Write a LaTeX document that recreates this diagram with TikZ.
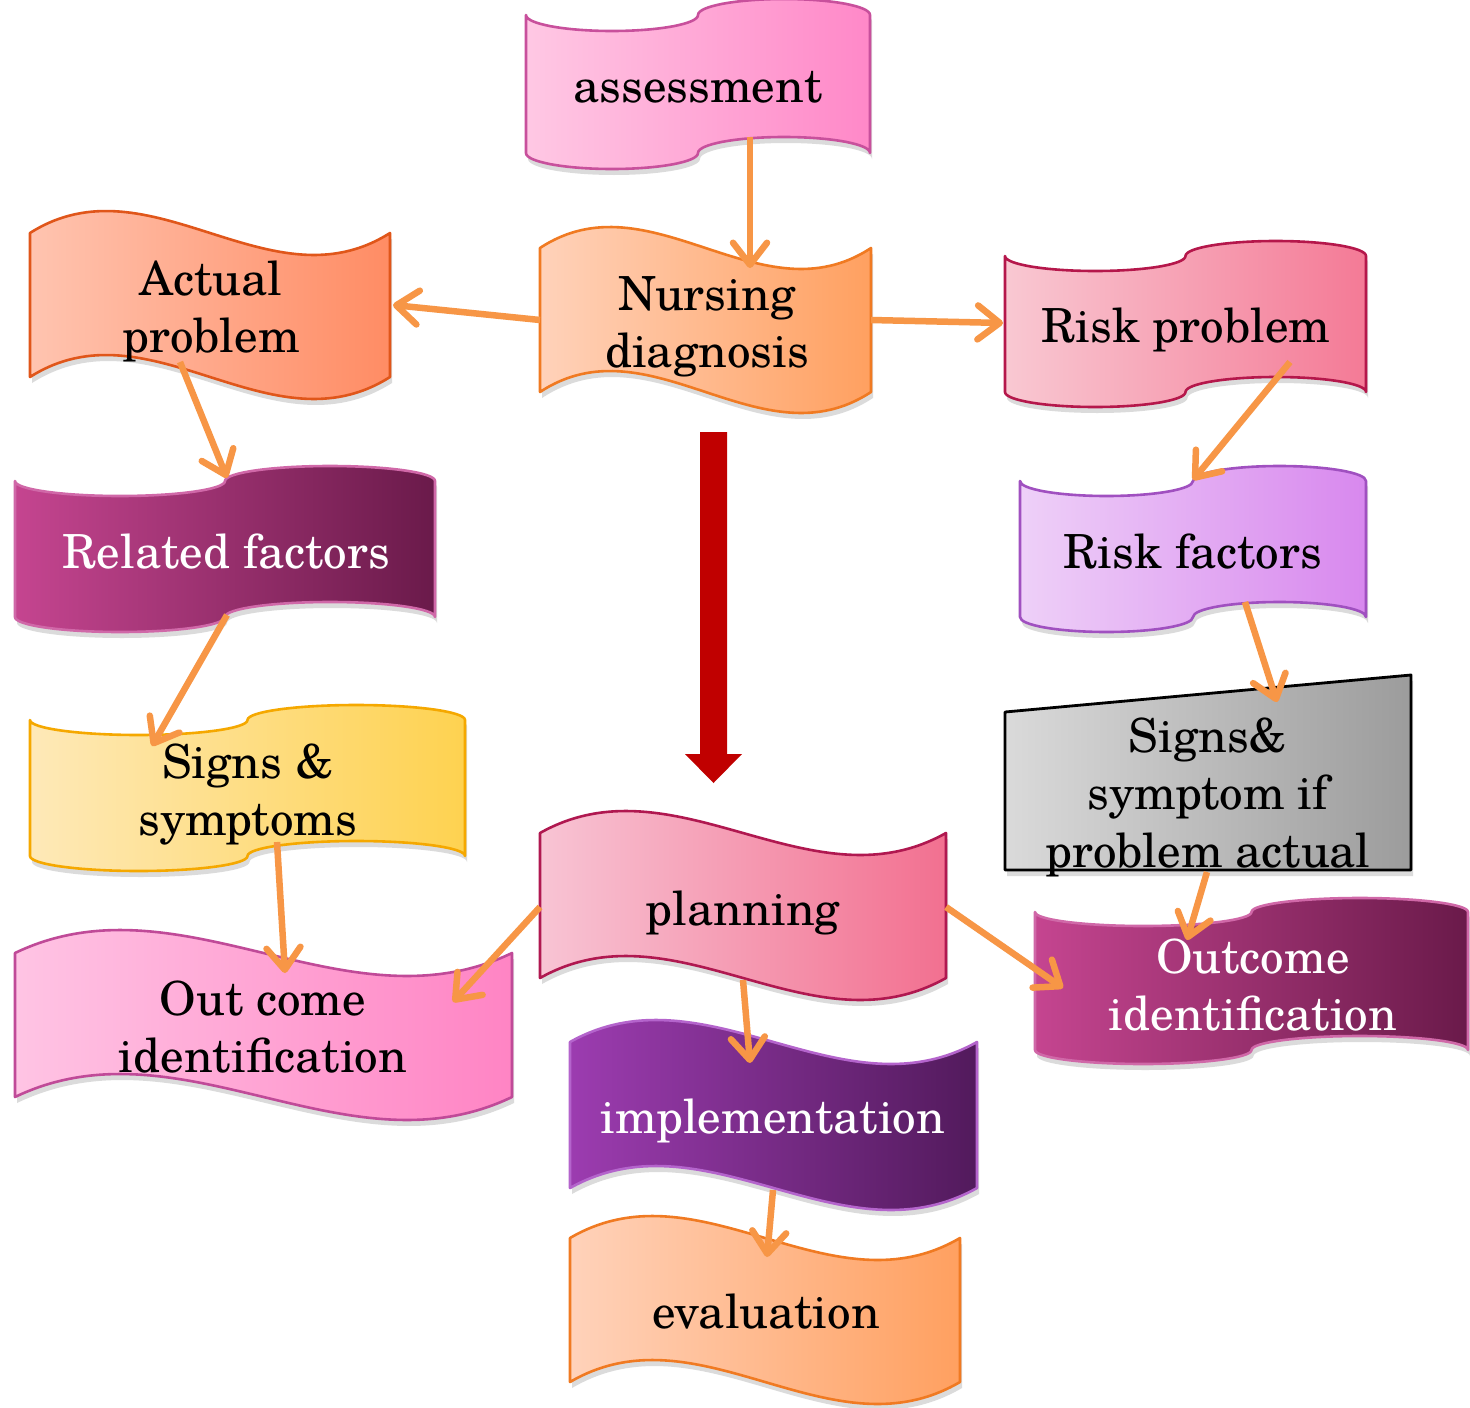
\documentclass[tikz,border=0pt]{standalone}
\usepackage{fontspec}
\setmainfont{TeX Gyre Schola}
\usetikzlibrary{arrows.meta}
\definecolor{connc}{HTML}{F79646}
\definecolor{bigred}{HTML}{C00000}
% ribbon colours: light, dark, border
\definecolor{asA}{HTML}{FFC8E4}\definecolor{asB}{HTML}{FF88C8}\definecolor{asC}{HTML}{C8509C}
\definecolor{orA}{HTML}{FFD2BA}\definecolor{orB}{HTML}{FFA060}\definecolor{orC}{HTML}{F07A22}
\definecolor{apA}{HTML}{FFC4B0}\definecolor{apB}{HTML}{FF8C64}\definecolor{apC}{HTML}{E0561A}
\definecolor{rpA}{HTML}{F9C8D2}\definecolor{rpB}{HTML}{F47A96}\definecolor{rpC}{HTML}{B5174B}
\definecolor{mgA}{HTML}{C54590}\definecolor{mgB}{HTML}{6A1A4A}\definecolor{mgC}{HTML}{D068A8}
\definecolor{rkA}{HTML}{EED0F8}\definecolor{rkB}{HTML}{D888EE}\definecolor{rkC}{HTML}{A050C0}
\definecolor{ywA}{HTML}{FEE9B8}\definecolor{ywB}{HTML}{FED250}\definecolor{ywC}{HTML}{F5A800}
\definecolor{gyA}{HTML}{DADADA}\definecolor{gyB}{HTML}{9C9C9C}
\definecolor{plA}{HTML}{F8C4D4}\definecolor{plB}{HTML}{F27090}\definecolor{plC}{HTML}{B01850}
\definecolor{pkA}{HTML}{FFC4E4}\definecolor{pkB}{HTML}{FF84C4}\definecolor{pkC}{HTML}{C04A98}
\definecolor{puA}{HTML}{9C3CB0}\definecolor{puB}{HTML}{521A5C}\definecolor{puC}{HTML}{B464CC}
\newcommand\ml[1]{\begin{tabular}[t]{@{}c@{}}#1\end{tabular}}
% punched-tape ribbon: style, L, R, top, bottom, ry
\newcommand\ptape[6]{%
  \pgfmathsetmacro\pa{(#3-#2)/4}%
  \path[fill=black,opacity=.14,shift={(2,6)}] (#2,#4)
    arc[start angle=180,end angle=0,x radius=\pa,y radius=#6]
    arc[start angle=180,end angle=360,x radius=\pa,y radius=#6] -- (#3,#5)
    arc[start angle=0,end angle=-180,x radius=\pa,y radius=#6]
    arc[start angle=0,end angle=180,x radius=\pa,y radius=#6] -- cycle;
  \path[#1] (#2,#4)
    arc[start angle=180,end angle=0,x radius=\pa,y radius=#6]
    arc[start angle=180,end angle=360,x radius=\pa,y radius=#6] -- (#3,#5)
    arc[start angle=0,end angle=-180,x radius=\pa,y radius=#6]
    arc[start angle=0,end angle=180,x radius=\pa,y radius=#6] -- cycle;}
% wave ribbon: style, L, R, top, bottom, amplitude
\newcommand\wavebox[6]{%
  \pgfmathsetmacro\wa{#2+(#3-#2)/3}%
  \pgfmathsetmacro\wb{#2+2*(#3-#2)/3}%
  \pgfmathsetmacro\wtu{#4-3.46*#6}\pgfmathsetmacro\wtd{#4+3.46*#6}%
  \pgfmathsetmacro\wbu{#5-3.46*#6}\pgfmathsetmacro\wbd{#5+3.46*#6}%
  \path[fill=black,opacity=.14,shift={(2,6)}] (#2,#4) .. controls (\wa,\wtu) and (\wb,\wtd) .. (#3,#4)
    -- (#3,#5) .. controls (\wb,\wbd) and (\wa,\wbu) .. (#2,#5) -- cycle;
  \path[#1] (#2,#4) .. controls (\wa,\wtu) and (\wb,\wtd) .. (#3,#4)
    -- (#3,#5) .. controls (\wb,\wbd) and (\wa,\wbu) .. (#2,#5) -- cycle;}
\tikzset{
  shp/.style={draw=#1C, line width=2.6pt, line join=round, left color=#1A, right color=#1B},
  lbl/.style={font=\fontsize{47}{57.5}\selectfont, inner sep=0pt, anchor=base},
  wlbl/.style={lbl, text=white},
  conn/.style={draw=connc, line width=6.5pt, -{Straight Barb[length=22pt,width=34pt,round]}},
}
\begin{document}
\begin{tikzpicture}[x=1pt,y=-1pt]
\useasboundingbox (0,0) rectangle (1470,1408);
\fill[white] (0,0) rectangle (1470,1408);

% ribbons
\ptape{shp=as}{526}{870}{15}{153}{16}
\wavebox{shp=or}{540}{871}{248}{392}{21}
\wavebox{shp=ap}{30}{390}{233}{377}{22}
\ptape{shp=rp}{1005}{1366}{256}{392}{15}
\ptape{shp=mg}{15}{435}{481}{617}{15}
\ptape{shp=rk}{1020}{1366}{481}{617}{15}
\ptape{shp=yw}{30}{465}{720}{856}{15}
\path[fill=black,opacity=.14,shift={(2,6)}] (1005,712) -- (1411,675) -- (1411,870) -- (1005,870) -- cycle;
\path[draw=black,line width=2.8pt,line join=round,left color=gyA,right color=gyB]
  (1005,712) -- (1411,675) -- (1411,870) -- (1005,870) -- cycle;
\wavebox{shp=pl}{540}{946}{833}{978}{22}
\wavebox{shp=pk}{15}{512}{953}{1097}{23}
\ptape{shp=mg}{1035}{1468}{912}{1050}{14}
\wavebox{shp=pu}{570}{977}{1042}{1188}{22}
\wavebox{shp=or}{570}{960}{1238}{1382}{22}

% big red arrow
\fill[bigred] (700,432) -- (727,432) -- (727,754) -- (742,754) -- (713.5,783) -- (685,754) -- (700,754) -- cycle;

% labels
\node[lbl] (assess) at (698,102) {assessment};
\node[lbl] (nurs) at (707,310) {\ml{Nursing\\diagnosis}};
\node[lbl] (actual) at (211,295) {\ml{Actual\\problem}};
\node[lbl] (riskp) at (1186,342) {Risk problem};
\node[wlbl] (related) at (226,568) {Related factors};
\node[lbl] (riskf) at (1193,568) {Risk factors};
\node[lbl] (signs) at (248,778) {\ml{Signs \&\\symptoms}};
\node[lbl] (sympt) at (1208,752) {\ml{Signs\&\\symptom if\\problem actual}};
\node[lbl] (plan) at (743,925) {planning};
\node[lbl] (outl) at (263,1015) {\ml{Out come\\identification}};
\node[wlbl] (outr) at (1253,973) {\ml{Outcome\\identification}};
\node[wlbl] (impl) at (773,1133) {implementation};
\node[lbl] (eval) at (766,1328) {evaluation};

% connector end points
\coordinate (as-o) at (750,137);  \coordinate (nd-i) at (750,268);
\coordinate (nd-l) at (540,320);  \coordinate (ap-i) at (393,305);
\coordinate (nd-r) at (871,320);  \coordinate (rp-i) at (1003,323);
\coordinate (ap-o) at (180,362);  \coordinate (rf-i) at (227,478);
\coordinate (rf-o) at (227,615);  \coordinate (ss-i) at (152,746);
\coordinate (ss-o) at (277,842);  \coordinate (ol-i) at (285,973);
\coordinate (pl-l) at (540,907);  \coordinate (ol-j) at (453,1002);
\coordinate (pl-r) at (946,907);  \coordinate (or-i) at (1063,988);
\coordinate (pl-b) at (743,980);  \coordinate (im-i) at (750,1063);
\coordinate (im-o) at (773,1190); \coordinate (ev-i) at (767,1257);
\coordinate (rp-o) at (1290,362); \coordinate (rk-i) at (1193,480);
\coordinate (rk-o) at (1245,602); \coordinate (sy-i) at (1277,702);
\coordinate (sy-o) at (1207,872); \coordinate (or-j) at (1187,940);

\draw[conn] (as-o) -- (nd-i);
\draw[conn] (nd-l) -- (ap-i);
\draw[conn] (nd-r) -- (rp-i);
\draw[conn] (ap-o) -- (rf-i);
\draw[conn] (rf-o) -- (ss-i);
\draw[conn] (ss-o) -- (ol-i);
\draw[conn] (pl-l) -- (ol-j);
\draw[conn] (pl-r) -- (or-i);
\draw[conn] (pl-b) -- (im-i);
\draw[conn] (im-o) -- (ev-i);
\draw[conn] (rp-o) -- (rk-i);
\draw[conn] (rk-o) -- (sy-i);
\draw[conn] (sy-o) -- (or-j);
\end{tikzpicture}
\end{document}
